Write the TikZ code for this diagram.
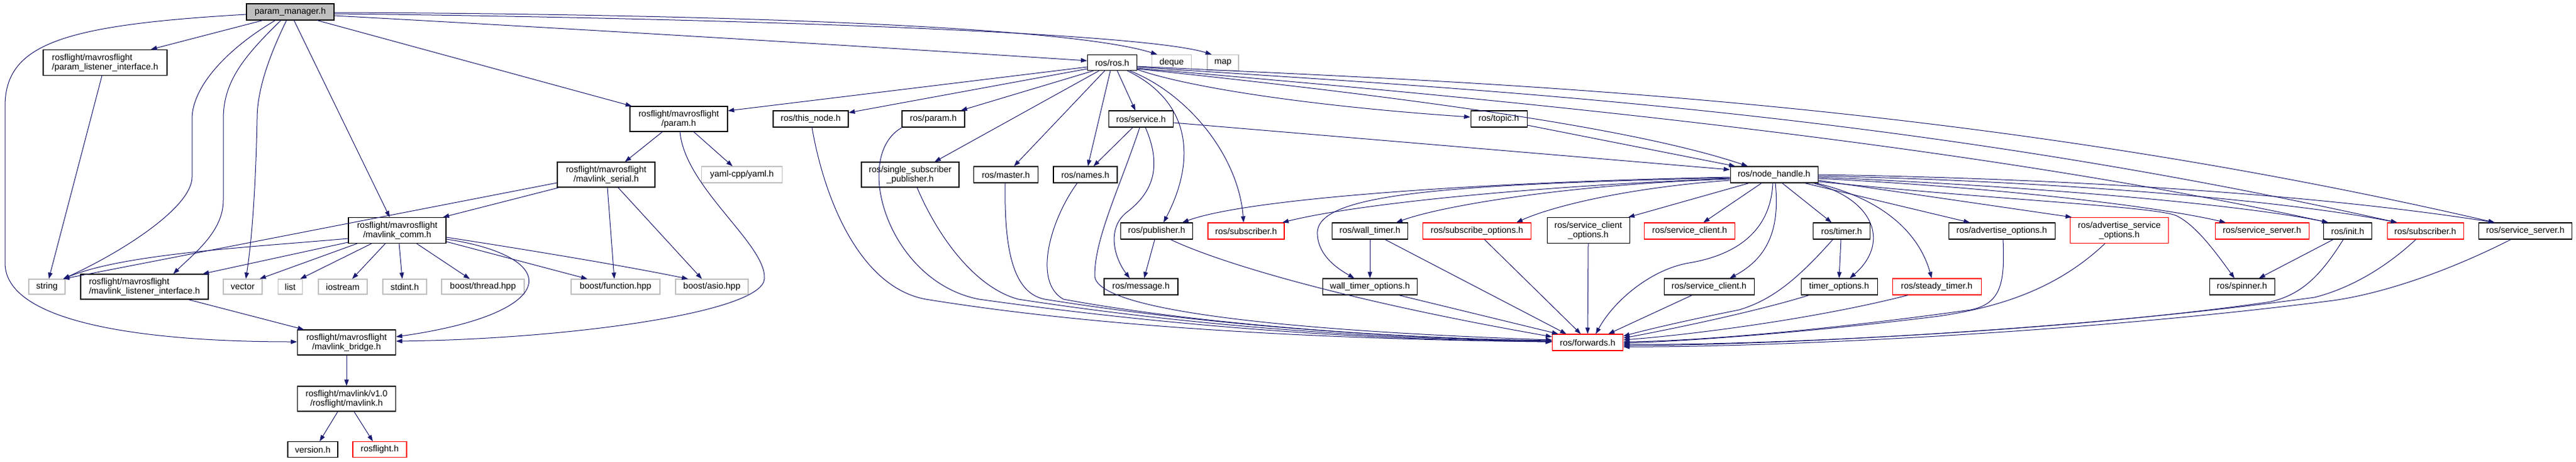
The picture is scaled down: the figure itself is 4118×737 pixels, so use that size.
\documentclass[tikz,border=0pt]{standalone}
\usepackage{fontspec}
\setmainfont{Liberation Sans}
\usetikzlibrary{arrows.meta}
\definecolor{edgeblue}{HTML}{191970}
\definecolor{sysgray}{HTML}{BFBFBF}
\definecolor{nodered}{HTML}{FF0000}
\begin{document}
\begin{tikzpicture}[x=1pt,y=-1pt,
 nd/.style={draw=black, line width=1.05pt, fill=white, inner sep=0pt, align=center, font=\fontsize{14}{15}\selectfont},
 rd/.style={nd, draw=nodered},
 sy/.style={nd, draw=sysgray},
 root/.style={nd, fill=sysgray},
 e/.style={draw=edgeblue, line width=1pt, -{Triangle[length=10pt,width=7pt]}}]
\fill[white] (0,0) rectangle (4118,737);
\useasboundingbox (0,0) rectangle (4118,737);
% nodes
\node[root, minimum width=140pt, minimum height=26pt] (pm) at (464,19) {param\_manager.h};
\node[nd, align=left, minimum width=198pt, minimum height=41pt] (pli) at (168,100) {rosflight/mavrosflight\\/param\_listener\_interface.h};
\node[sy, minimum width=58pt, minimum height=24pt] (str) at (75,458) {string};
\node[nd, align=left, minimum width=204pt, minimum height=40pt] (mli) at (231,458) {rosflight/mavrosflight\\/mavlink\_listener\_interface.h};
\node[sy, minimum width=62pt, minimum height=24pt] (vec) at (388,458) {vector};
\node[sy, minimum width=39pt, minimum height=24pt] (lst) at (464,458) {list};
\node[sy, minimum width=78pt, minimum height=24pt] (ios) at (548,458) {iostream};
\node[sy, minimum width=70pt, minimum height=24pt] (sti) at (647,458) {stdint.h};
\node[sy, minimum width=132pt, minimum height=24pt] (thr) at (772,458) {boost/thread.hpp};
\node[sy, minimum width=142pt, minimum height=24pt] (fun) at (984,458) {boost/function.hpp};
\node[sy, minimum width=116pt, minimum height=24pt] (asi) at (1138,458) {boost/asio.hpp};
\node[nd, minimum width=156pt, minimum height=41pt] (com) at (635,368) {rosflight/mavrosflight\\/mavlink\_comm.h};
\node[nd, minimum width=157pt, minimum height=40pt] (brg) at (554,547) {rosflight/mavrosflight\\/mavlink\_bridge.h};
\node[nd, minimum width=157pt, minimum height=40pt] (mav) at (554,637) {rosflight/mavlink/v1.0\\/rosflight/mavlink.h};
\node[nd, minimum width=80pt, minimum height=25pt] (ver) at (500,718) {version.h};
\node[rd, minimum width=86pt, minimum height=25pt] (rfl) at (607,718) {rosflight.h};
\node[nd, minimum width=156pt, minimum height=40pt] (prm) at (1085,190) {rosflight/mavrosflight\\/param.h};
\node[nd, minimum width=156pt, minimum height=40pt] (ser) at (969,279) {rosflight/mavrosflight\\/mavlink\_serial.h};
\node[sy, minimum width=129pt, minimum height=26pt] (yml) at (1186,279) {yaml-cpp/yaml.h};
\node[nd, minimum width=79pt, minimum height=25pt] (ros) at (1778,100) {ros/ros.h};
\node[sy, minimum width=63pt, minimum height=25pt] (deq) at (1873,100) {deque};
\node[sy, minimum width=50pt, minimum height=25pt] (map) at (1955,100) {map};
\node[nd, minimum width=120pt, minimum height=26pt] (tnd) at (1296,190) {ros/this\_node.h};
\node[nd, minimum width=100pt, minimum height=26pt] (rpm) at (1492,190) {ros/param.h};
\node[nd, minimum width=103pt, minimum height=26pt] (srv) at (1824,190) {ros/service.h};
\node[nd, minimum width=156pt, minimum height=40pt] (ssp) at (1455,279) {ros/single\_subscriber\\\_publisher.h};
\node[nd, minimum width=103pt, minimum height=26pt] (mst) at (1608,279) {ros/master.h};
\node[nd, minimum width=102pt, minimum height=26pt] (nam) at (1735,279) {ros/names.h};
\node[nd, minimum width=90pt, minimum height=26pt] (top) at (2396,190) {ros/topic.h};
\node[nd, minimum width=140pt, minimum height=26pt] (nh) at (2836,279) {ros/node\_handle.h};
\node[nd, minimum width=115pt, minimum height=26pt] (pub) at (1849,369) {ros/publisher.h};
\node[rd, minimum width=122pt, minimum height=26pt] (sub1) at (1992,369) {ros/subscriber.h};
\node[nd, minimum width=121pt, minimum height=26pt] (wt) at (2190,369) {ros/wall\_timer.h};
\node[rd, minimum width=173pt, minimum height=26pt] (so) at (2361,369) {ros/subscribe\_options.h};
\node[nd, minimum width=132pt, minimum height=41pt] (sco) at (2539,368) {ros/service\_client\\\_options.h};
\node[rd, minimum width=145pt, minimum height=26pt] (sc1) at (2701,369) {ros/service\_client.h};
\node[nd, minimum width=91pt, minimum height=26pt] (tim) at (2944,369) {ros/timer.h};
\node[nd, minimum width=170pt, minimum height=26pt] (ao) at (3200,369) {ros/advertise\_options.h};
\node[rd, minimum width=157pt, minimum height=41pt] (aso) at (3388,368) {ros/advertise\_service\\\_options.h};
\node[rd, minimum width=150pt, minimum height=26pt] (ss1) at (3616,369) {ros/service\_server.h};
\node[nd, minimum width=77pt, minimum height=26pt] (ini) at (3753,369) {ros/init.h};
\node[rd, minimum width=122pt, minimum height=26pt] (sub2) at (3877,369) {ros/subscriber.h};
\node[nd, minimum width=149pt, minimum height=26pt] (ss2) at (4037,369) {ros/service\_server.h};
\node[nd, minimum width=118pt, minimum height=26pt] (msg) at (1824,458) {ros/message.h};
\node[nd, minimum width=151pt, minimum height=26pt] (wto) at (2190,458) {wall\_timer\_options.h};
\node[nd, minimum width=144pt, minimum height=26pt] (sc2) at (2732,458) {ros/service\_client.h};
\node[nd, minimum width=122pt, minimum height=26pt] (to) at (2940,458) {timer\_options.h};
\node[rd, minimum width=142pt, minimum height=26pt] (st) at (3096,458) {ros/steady\_timer.h};
\node[nd, minimum width=104pt, minimum height=26pt] (spn) at (3584,458) {ros/spinner.h};
\node[rd, minimum width=113pt, minimum height=26pt] (fwd) at (2538,547) {ros/forwards.h};
% edges from param_manager
\draw[e] (420,0 |- pm.south) -- (241,0 |- pli.north);
\draw[e] (pm.west |- 0,23) .. controls (100,40) and (8,70) .. (8,170) -- (8,420) .. controls (8,520) and (250,546) .. (brg.west |- 0,546);
\draw[e] (440,0 |- pm.south) .. controls (360,80) and (307,140) .. (307,190) -- (307,283) .. controls (307,330) and (200,400) .. (101,0 |- str.north);
\draw[e] (449,0 |- pm.south) .. controls (390,90) and (357,130) .. (357,190) -- (357,320) .. controls (357,370) and (310,405) .. (277,0 |- mli.north);
\draw[e] (458,0 |- pm.south) .. controls (425,100) and (411,150) .. (411,190) .. controls (408,330) and (400,400) .. (393,0 |- vec.north);
\draw[e] (470,0 |- pm.south) -- (623,0 |- com.north);
\draw[e] (507,0 |- pm.south) -- (1010,0 |- prm.north);
\draw[e] (pm.east |- 0,25) .. controls (900,45) and (1400,75) .. (ros.west |- 0,97);
\draw[e] (pm.east |- 0,20) .. controls (1100,22) and (1700,40) .. (1850,0 |- deq.north);
\draw[e] (pm.east |- 0,22) .. controls (1100,28) and (1820,50) .. (1937,0 |- map.north);
% rosflight side
\draw[e] (163,0 |- pli.south) -- (78,0 |- str.north);
\draw[e] (301,0 |- mli.south) -- (486,0 |- brg.north);
\draw[e] (com.west |- 0,381) .. controls (400,395) and (200,405) .. (101,0 |- str.north);
\draw[e] (com.west |- 0,387) -- (324,0 |- mli.north);
\draw[e] (571,0 |- com.south) -- (415,0 |- vec.north);
\draw[e] (594,0 |- com.south) -- (480,0 |- lst.north);
\draw[e] (616,0 |- com.south) -- (563,0 |- ios.north);
\draw[e] (638,0 |- com.south) -- (643,0 |- sti.north);
\draw[e] (666,0 |- com.south) -- (751,0 |- thr.north);
\draw[e] (com.east |- 0,386) -- (939,0 |- fun.north);
\draw[e] (com.east |- 0,379) .. controls (850,400) and (1000,425) .. (1100,0 |- asi.north);
\draw[e] (com.east |- 0,382) .. controls (900,410) and (900,500) .. (brg.east |- 0,538);
\draw[e] (1059,0 |- prm.south) -- (999,0 |- ser.north);
\draw[e] (1109,0 |- prm.south) -- (1171,0 |- yml.north);
\draw[e] (1087,0 |- prm.south) .. controls (1095,300) and (1225,390) .. (1222,445) .. controls (1220,500) and (900,542) .. (brg.east |- 0,545);
\draw[e] (ser.west |- 0,292) -- (101,0 |- str.north);
\draw[e] (894,0 |- ser.south) -- (708,0 |- com.north);
\draw[e] (971,0 |- ser.south) -- (982,0 |- fun.north);
\draw[e] (988,0 |- ser.south) -- (1122,0 |- asi.north);
\draw[e] (brg.south) -- (mav.north);
\draw[e] (540,0 |- mav.south) -- (511,0 |- ver.north);
\draw[e] (566,0 |- mav.south) -- (596,0 |- rfl.north);
% ros.h
\draw[e] (ros.west |- 0,107) -- (prm.east |- 0,177);
\draw[e] (ros.west |- 0,110) -- (tnd.east |- 0,180);
\draw[e] (1748,0 |- ros.south) -- (1536,0 |- rpm.north);
\draw[e] (1757,0 |- ros.south) -- (1494,0 |- ssp.north);
\draw[e] (1766,0 |- ros.south) -- (1621,0 |- mst.north);
\draw[e] (1775,0 |- ros.south) -- (1739,0 |- nam.north);
\draw[e] (1786,0 |- ros.south) -- (1815,0 |- srv.north);
\draw[e] (1802,0 |- ros.south) .. controls (1900,160) and (1915,250) .. (1860,0 |- pub.north);
\draw[e] (1806,0 |- ros.south) .. controls (1900,150) and (1980,250) .. (1988,0 |- sub1.north);
\draw[e] (ros.east |- 0,111) .. controls (1900,140) and (2100,170) .. (top.west |- 0,187);
\draw[e] (ros.east |- 0,110) .. controls (2200,150) and (2600,200) .. (2794,0 |- nh.north);
\draw[e] (ros.east |- 0,106) .. controls (2300,130) and (3100,150) .. (3988,0 |- ss2.north);
\draw[e] (ros.east |- 0,107) .. controls (2300,140) and (3000,170) .. (3832,0 |- sub2.north);
\draw[e] (ros.east |- 0,109) .. controls (2300,150) and (3100,220) .. (3722,0 |- ini.north);
% service, topic
\draw[e] (srv.east |- 0,196) -- (nh.west |- 0,271);
\draw[e] (top.east |- 0,200) -- (2774,0 |- nh.north);
\draw[e] (1811,0 |- srv.south) -- (1748,0 |- nam.north);
\draw[e] (1831,0 |- srv.south) .. controls (1860,270) and (1840,310) .. (1800,340) .. controls (1770,365) and (1780,410) .. (1806,0 |- msg.north);
\draw[e] (1822,0 |- srv.south) .. controls (1790,300) and (1750,380) .. (1750,440) .. controls (1750,500) and (2100,530) .. (fwd.west |- 0,543);
\draw[e] (1846,0 |- pub.south) -- (1829,0 |- msg.north);
\draw[e] (1871,0 |- pub.south) .. controls (1950,420) and (2150,480) .. (fwd.west |- 0,538);
% into forwards from left
\draw[e] (1298,0 |- tnd.south) .. controls (1320,330) and (1380,460) .. (1480,478) .. controls (1800,530) and (2200,543) .. (fwd.west |- 0,546);
\draw[e] (1442,0 |- rpm.south) .. controls (1360,250) and (1420,450) .. (1565,478) .. controls (1900,525) and (2200,543) .. (fwd.west |- 0,546);
\draw[e] (1466,0 |- ssp.south) .. controls (1500,380) and (1560,460) .. (1628,478) .. controls (1900,520) and (2200,542) .. (fwd.west |- 0,545);
\draw[e] (1607,0 |- mst.south) .. controls (1605,400) and (1620,468) .. (1670,478) .. controls (1900,515) and (2200,540) .. (fwd.west |- 0,545);
\draw[e] (1722,0 |- nam.south) .. controls (1680,350) and (1650,450) .. (1700,478) .. controls (1900,515) and (2200,540) .. (fwd.west |- 0,544);
% middle
\draw[e] (wt.south) -- (wto.north);
\draw[e] (2214,0 |- wt.south) -- (2504,0 |- fwd.north);
\draw[e] (2236,0 |- wto.south) -- (2491,0 |- fwd.north);
\draw[e] (2373,0 |- so.south) -- (2527,0 |- fwd.north);
\draw[e] (sco.south) -- (fwd.north);
\draw[e] (2705,0 |- sc2.south) -- (2571,0 |- fwd.north);
\draw[e] (2834,0 |- nh.south) .. controls (2830,380) and (2760,410) .. (2700,420) .. controls (2640,430) and (2580,480) .. (2551,0 |- fwd.north);
\draw[e] (2943,0 |- tim.south) -- (2940,0 |- to.north);
\draw[e] (2930,0 |- tim.south) .. controls (2870,450) and (2830,480) .. (2780,495) .. controls (2680,515) and (2620,530) .. (fwd.east |- 0,537);
\draw[e] (2892,0 |- to.south) .. controls (2800,500) and (2650,530) .. (fwd.east |- 0,540);
\draw[e] (3050,0 |- st.south) .. controls (2900,510) and (2700,535) .. (fwd.east |- 0,543);
\draw[e] (3202,0 |- ao.south) .. controls (3205,450) and (3200,485) .. (3150,495) .. controls (2900,530) and (2700,545) .. (fwd.east |- 0,546);
\draw[e] (3365,0 |- aso.south) .. controls (3290,460) and (3200,490) .. (3100,505) .. controls (2900,530) and (2700,545) .. (fwd.east |- 0,548);
\draw[e] (3746,0 |- ini.south) .. controls (3710,440) and (3680,470) .. (3630,482) .. controls (3300,530) and (2800,552) .. (fwd.east |- 0,550);
\draw[e] (3862,0 |- sub2.south) .. controls (3800,440) and (3740,465) .. (3700,475) .. controls (3300,530) and (2800,552) .. (fwd.east |- 0,552);
\draw[e] (4014,0 |- ss2.south) .. controls (3900,440) and (3800,470) .. (3730,480) .. controls (3300,535) and (2800,555) .. (fwd.east |- 0,554);
\draw[e] (3730,0 |- ini.south) -- (3611,0 |- spn.north);
% node_handle out
\draw[e] (nh.east |- 0,290) .. controls (3200,320) and (3450,330) .. (3480,345) .. controls (3510,360) and (3540,400) .. (3572,0 |- spn.north);
\draw[e] (nh.west |- 0,283) .. controls (2400,290) and (2000,315) .. (1890,0 |- pub.north);
\draw[e] (nh.west |- 0,285) .. controls (2400,300) and (2150,330) .. (2050,0 |- sub1.north);
\draw[e] (nh.west |- 0,284) .. controls (2300,295) and (2100,310) .. (2106,375) .. controls (2108,410) and (2140,430) .. (2165,0 |- wto.north);
\draw[e] (nh.west |- 0,286) .. controls (2500,295) and (2300,330) .. (2232,0 |- wt.north);
\draw[e] (nh.west |- 0,288) .. controls (2600,300) and (2480,330) .. (2424,0 |- so.north);
\draw[e] (2796,0 |- nh.south) -- (2603,0 |- sco.north);
\draw[e] (2816,0 |- nh.south) -- (2723,0 |- sc1.north);
\draw[e] (2838,0 |- nh.south) .. controls (2845,360) and (2830,410) .. (2765,0 |- sc2.north);
\draw[e] (2849,0 |- nh.south) -- (2928,0 |- tim.north);
\draw[e] (2899,0 |- nh.south) .. controls (3000,320) and (3020,390) .. (2957,0 |- to.north);
\draw[e] (2903,0 |- nh.south) .. controls (3020,320) and (3070,380) .. (3088,0 |- st.north);
\draw[e] (2885,0 |- nh.south) -- (3149,0 |- ao.north);
\draw[e] (nh.east |- 0,288) -- (3312,0 |- aso.north);
\draw[e] (nh.east |- 0,285) .. controls (3200,300) and (3450,330) .. (3558,0 |- ss1.north);
\draw[e] (nh.east |- 0,283) .. controls (3300,300) and (3600,330) .. (3722,0 |- ini.north);
\draw[e] (nh.east |- 0,281) .. controls (3300,290) and (3650,320) .. (3832,0 |- sub2.north);
\draw[e] (nh.east |- 0,279) .. controls (3300,285) and (3700,310) .. (3988,0 |- ss2.north);
\end{tikzpicture}
\end{document}
